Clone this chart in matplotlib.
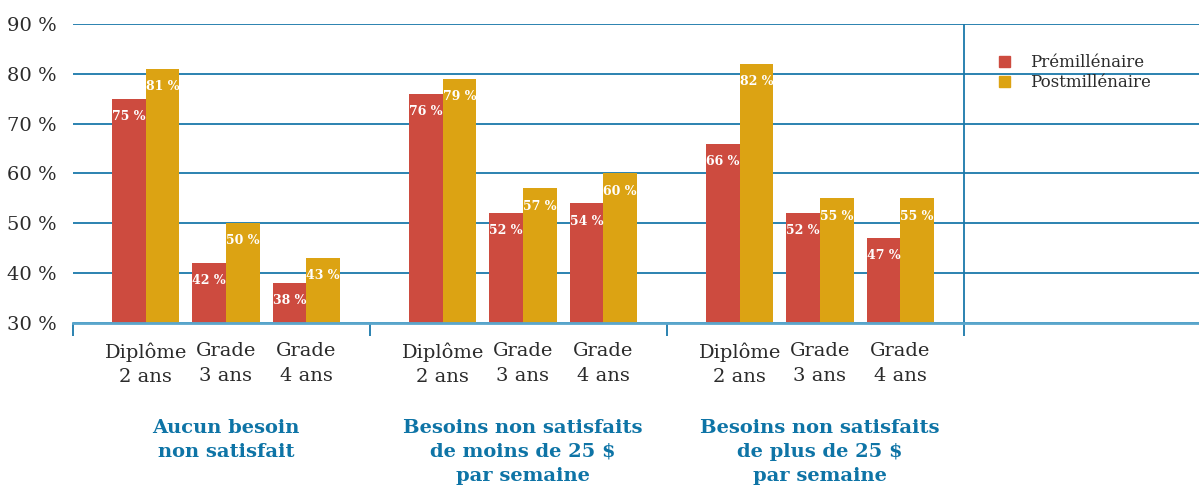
import matplotlib.pyplot as plt
from matplotlib.patches import Patch
import numpy as np

plt.rcParams['font.family'] = ['DejaVu Serif']

groups = ['Aucun besoin\nnon satisfait',
          'Besoins non satisfaits\nde moins de 25 $\npar semaine',
          'Besoins non satisfaits\nde plus de 25 $\npar semaine']
categories = ['Diplôme\n2 ans', 'Grade\n3 ans', 'Grade\n4 ans']
pre = [[75, 42, 38], [76, 52, 54], [66, 52, 47]]
post = [[81, 50, 43], [79, 57, 60], [82, 55, 55]]
series = ['Prémillénaire', 'Postmillénaire']

red = '#cd4b3f'
gold = '#dca313'
blue = '#1a78aa'
axis_blue = '#5aa6cc'
text_blue = '#0e74a6'
dark = '#2b2b2b'

W, H = 1199, 498
fig = plt.figure(figsize=(W / 100, H / 100), dpi=100)
ax = fig.add_axes([73 / W, (H - 323) / H, (W - 73) / W, (323 - 24) / H])

bw = 0.113
step = 0.27
first = 0.245
centers = []
for g in range(len(groups)):
    for k in range(len(categories)):
        c = g + first + step * k
        centers.append(c)
        for val, col, off in [(pre[g][k], red, -bw / 2), (post[g][k], gold, bw / 2)]:
            ax.bar(c + off, val - 30, bw, bottom=30, color=col, zorder=3)
            ax.annotate(f'{val} %', (c + off, val), xytext=(0, -8),
                        textcoords='offset points', ha='center', va='top',
                        color='white', fontsize=9, fontweight='bold', zorder=4)

ax.set_ylim(30, 90)
ax.set_xlim(0, (W - 73) / 297)
ax.set_yticks(np.arange(30, 91, 10))
ax.set_yticklabels([f'{v} %' for v in range(30, 91, 10)], fontsize=14, color=dark)
ax.tick_params(axis='y', length=0, pad=12)
ax.yaxis.grid(True, color=blue, lw=1.3, zorder=1)
ax.set_axisbelow(True)

ax.set_xticks(centers)
ax.set_xticklabels(categories * len(groups), fontsize=14, color=dark, linespacing=1.45)
ax.tick_params(axis='x', length=0, pad=14)
ax.set_xticks([0, 1, 2, 3], minor=True)
ax.tick_params(axis='x', which='minor', length=9, width=1.3, color=blue, direction='out')

for s in ['top', 'left', 'right']:
    ax.spines[s].set_visible(False)
ax.spines['bottom'].set_color(axis_blue)
ax.spines['bottom'].set_linewidth(2)
ax.spines['bottom'].set_zorder(5)
ax.axvline(3, color=blue, lw=1.3, zorder=2)

for g, label in enumerate(groups):
    ax.text(g + first + step, -0.32, label, transform=ax.get_xaxis_transform(),
            ha='center', va='top', fontsize=14, fontweight='bold', color=text_blue,
            linespacing=1.45)

handles = [Patch(color=red), Patch(color=gold)]
fig.legend(handles, series, loc='upper left', bbox_to_anchor=(984 / W, 1 - 39 / H),
           frameon=False, fontsize=12, handlelength=0.65, handleheight=0.65,
           handletextpad=1.2, labelspacing=0.2, labelcolor=dark)

fig.savefig('out.png', dpi=100)
